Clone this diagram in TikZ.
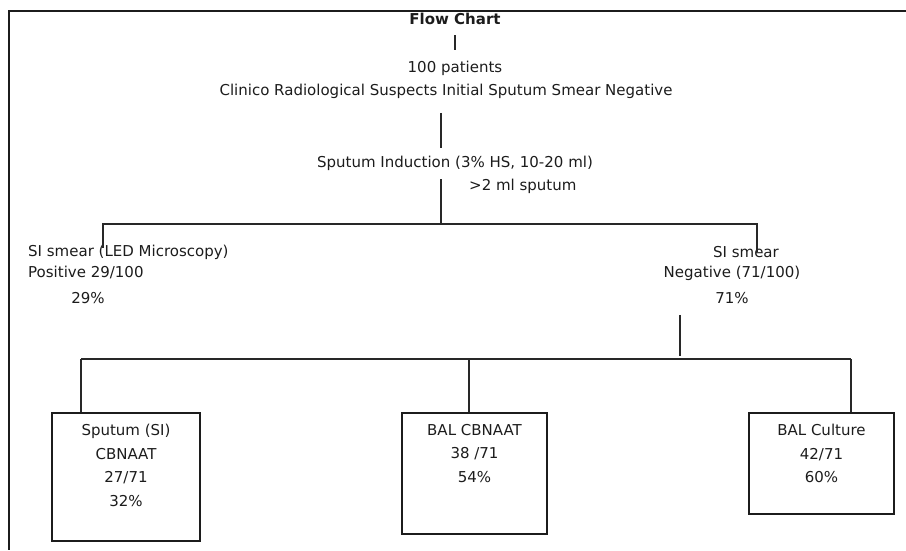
\documentclass[tikz,border=0pt]{standalone}
\usepackage{fontspec}
\setmainfont{DejaVu Sans}
\usetikzlibrary{positioning}

\begin{document}
\begin{tikzpicture}[x=1pt,y=-1pt,font=\fontsize{15}{23.5}\selectfont,
    txt/.style={ink, inner sep=0pt, anchor=base},
    wire/.style={draw=lead, line width=1.2pt},
    boxnode/.style={draw=ink, line width=1.5pt, inner sep=0pt, anchor=north}]
  \definecolor{ink}{RGB}{28,28,28}
  \definecolor{lead}{RGB}{40,40,40}

  \useasboundingbox (0,0) rectangle (906,550);
  \draw[ink, line width=2.6pt] (906,11) -- (9,11) -- (9,550);

  \node[txt, font=\fontsize{15}{18}\selectfont\bfseries] (title) at (455,24) {Flow Chart};
  \node[txt] (patients) at (455,72) {100 patients};
  \node[txt] (suspects) at (446,95) {Clinico Radiological Suspects Initial Sputum Smear Negative};
  \node[txt] (induction) at (455,167) {Sputum Induction (3\% HS, 10-20 ml)};
  \node[txt, anchor=base west] (volume) at (469,190) {>2 ml sputum};

  \coordinate (trunk) at (441,224);
  \coordinate (posdrop) at (103,224);
  \coordinate (negdrop) at (757,224);

  \node[txt, anchor=base west] (smearpos) at (28,256) {SI smear (LED Microscopy)};
  \node[txt, anchor=base west] (positive) at (28,277) {Positive 29/100};
  \node[txt] (pospct) at (88,303) {29\%};
  \node[txt] (smearneg) at (746,257) {SI smear};
  \node[txt] (negative) at (732,277) {Negative (71/100)};
  \node[txt] (negpct) at (732,303) {71\%};

  \draw[wire, shorten <=11pt, shorten >=10.6pt] (title.south) -- (patients.north);
  \draw[wire, shorten <=14.5pt, shorten >=7.6pt] (suspects.south -| trunk) -- (induction.north -| trunk);
  \draw[wire, shorten <=9pt] (induction.south -| trunk) -- (trunk);
  \draw[wire, shorten <=4pt] (posdrop |- smearpos.center) -- (posdrop) -- (negdrop) -- (negdrop |- smearneg.center);

  \coordinate (branch) at (680,359);
  \coordinate (fanleft) at (81,359);
  \coordinate (fanright) at (851,359);
  \draw[wire, shorten <=11.5pt, shorten >=3pt] (negpct.south -| branch) -- (branch);
  \draw[wire] (fanleft) -- (fanright);

  \foreach \boxname/\dropx/\midx/\boxw/\boxh in {sputum/81/126/148/128, bal/469/474.5/145/121, culture/851/821.5/145/101} {
    \node[boxnode, minimum width=\boxw, minimum height=\boxh] (box\boxname) at (\midx,412) {};
    \coordinate (drop\boxname) at (\dropx,359);
    \draw[wire] (drop\boxname) -- (drop\boxname |- box\boxname.north);
  }

  \node[txt, align=center, below=12pt of boxsputum.north] (sputumtext) {Sputum (SI)\\CBNAAT\\27/71\\32\%};
  \node[txt, align=center, below=12pt of boxbal.north] (baltext) {BAL CBNAAT\\38 /71\\54\%};
  \node[txt, align=center, below=12pt of boxculture.north] (culturetext) {BAL Culture\\42/71\\60\%};
\end{tikzpicture}
\end{document}
